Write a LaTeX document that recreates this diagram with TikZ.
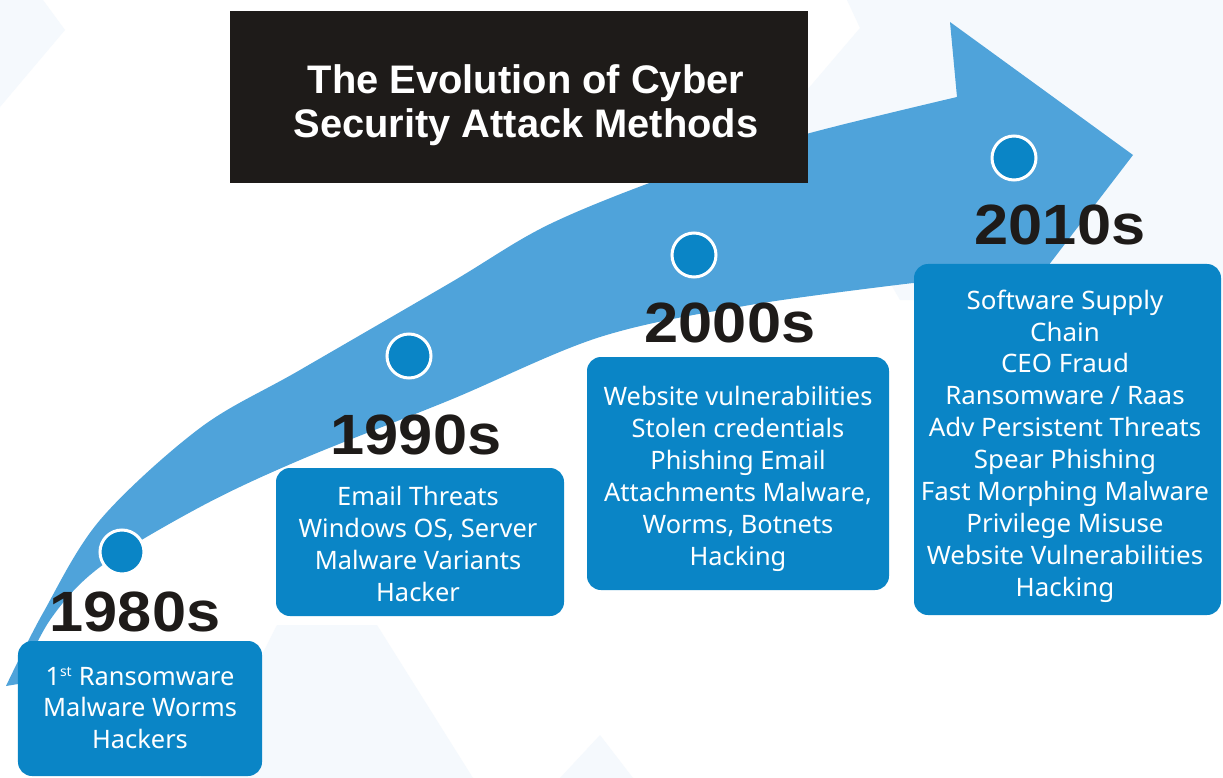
\documentclass[tikz,border=0pt]{standalone}
\usepackage{fontspec}
\setmainfont{Noto Sans}
\newfontfamily\headfont{Liberation Sans}
\newfontfamily\yearfont{Liberation Sans}[FakeStretch=1.08]
\newfontfamily\itemfont{Noto Sans}
\newfontfamily\wideitemfont{Noto Sans}[FakeStretch=1.02]
\definecolor{arrowblue}{HTML}{4FA3DA}
\definecolor{boxblue}{HTML}{0A85C6}
\definecolor{inkdark}{HTML}{1E1B19}
\definecolor{haze}{HTML}{F5F9FD}
\begin{document}
\begin{tikzpicture}[x=1bp,y=-1bp,
  yearlabel/.style={font=\yearfont\bfseries\fontsize{57}{57}\selectfont, text=inkdark, inner sep=0pt, anchor=center},
  itembox/.style={fill=boxblue, rounded corners=14bp, text=white, align=center,
    font=\itemfont\fontsize{25.5}{32}\selectfont, inner sep=0pt},
  dot/.style={circle, fill=boxblue, draw=white, line width=3bp, minimum size=44bp, inner sep=0pt},
  titlebox/.style={fill=inkdark, inner sep=0pt, minimum width=578bp, minimum height=172bp},
  titletext/.style={text=white, align=center, inner sep=0pt,
    font=\headfont\bfseries\fontsize{40}{44}\selectfont}
]
\useasboundingbox (0,0) rectangle (1223,778);
\fill[white] (0,0) rectangle (1223,778);
% faint background facets
\fill[haze] (0,0) -- (43,0) -- (65,30) -- (0,107) -- cycle;
\fill[haze] (847,0) -- (1223,0) -- (1223,300) -- (900,300) -- (790,110) -- (860,28) -- cycle;
\fill[haze] (200,778) -- (277,625) -- (377,625) -- (473,778) -- cycle;
\fill[haze] (600,735) -- (633,778) -- (560,778) -- cycle;
% sweeping arrow
\fill[arrowblue]
  plot[smooth, tension=0.55] coordinates {(6,686) (43,613) (100,520) (200,428) (300,370) (450,283) (550,224) (680,172) (810,133) (957,97)}
  -- (950,22) -- (1133,155) -- (1022,300) -- (913,283)
  -- plot[smooth, tension=0.55] coordinates {(913,283) (750,305) (600,337) (450,400) (300,460) (200,507) (100,567) (50,620) (18,684)}
  -- cycle;
% heading
\node[titlebox] (title) at (519,97) {};
\node[titletext] (titletext) at (526,105) {The Evolution of Cyber\\Security Attack Methods};
% timeline markers
\node[dot] (d1) at (122,552) {};
\node[dot] (d2) at (409,356) {};
\node[dot] (d3) at (694,255) {};
\node[dot] (d4) at (1014,158) {};
% decade labels
\node[yearlabel] (y1) at (135,612) {1980s};
\node[yearlabel] (y2) at (416,435) {1990s};
\node[yearlabel] (y3) at (730,323) {2000s};
\node[yearlabel] (y4) at (1060,225) {2010s};
% attack method boxes
\node[itembox, minimum width=244bp, minimum height=135bp] (b1) at (140,708.5) {};
\node[itembox, minimum width=288bp, minimum height=148bp] (b2) at (420,542) {};
\node[itembox, minimum width=302bp, minimum height=233bp] (b3) at (738,473.5) {};
\node[itembox, minimum width=307bp, minimum height=351bp] (b4) at (1067.5,439.5) {};
\node[itembox, fill=none] (t1) at (140,708)
  {1\textsuperscript{\fontsize{14}{14}\selectfont st} Ransomware\\Malware Worms\\Hackers};
\node[itembox, fill=none] (t2) at (418,544)
  {Email Threats\\Windows OS, Server\\Malware Variants\\Hacker};
\node[itembox, fill=none] (t3) at (738,479)
  {Website vulnerabilities\\Stolen credentials\\Phishing Email\\Attachments Malware,\\Worms, Botnets\\Hacking};
\node[itembox, fill=none, font=\wideitemfont\fontsize{25.5}{32}\selectfont] (t4) at (1065,446)
  {Software Supply\\Chain\\CEO Fraud\\Ransomware / Raas\\Adv Persistent Threats\\Spear Phishing\\Fast Morphing Malware\\Privilege Misuse\\Website Vulnerabilities\\Hacking};
\end{tikzpicture}
\end{document}
